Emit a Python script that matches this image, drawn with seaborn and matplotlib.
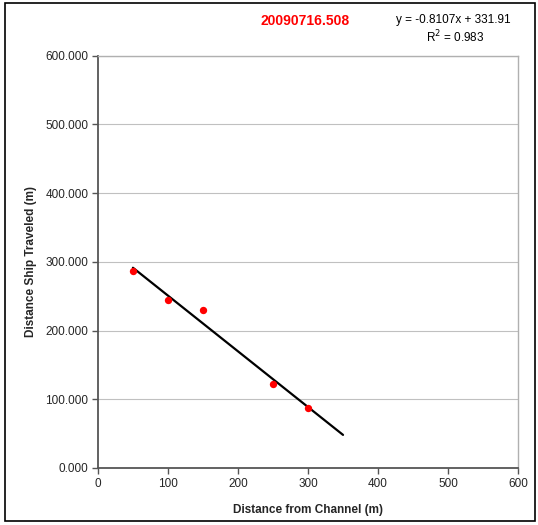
import matplotlib
matplotlib.use("Agg")
import matplotlib.pyplot as plt
import seaborn as sns
import numpy as np
import pandas as pd
from matplotlib.patches import Rectangle

# Data
distance_from_channel = [50, 100, 150, 250, 300]
distance_ship_traveled = [286.6, 245.0, 230.0, 122.8, 87.4]
slope = -0.8107
intercept = 331.91
trend_x_range = [50, 350]
title_text = "20090716.508"
equation_text = "y = -0.8107x + 331.91"
r2_text = "R$^2$ = 0.983"
x_ticks = [0, 100, 200, 300, 400, 500, 600]
y_ticks = [0, 100, 200, 300, 400, 500, 600]

sns.set_style("white")
plt.rcParams['font.family'] = ['Liberation Sans', 'DejaVu Sans']

fig = plt.figure(figsize=(5.38, 5.25), dpi=100)
ax = fig.add_axes([0.182, 0.1086, 0.781, 0.7854])

df = pd.DataFrame({"x": distance_from_channel, "y": distance_ship_traveled})
trend = pd.DataFrame({"x": trend_x_range,
                      "y": [slope * v + intercept for v in trend_x_range]})

sns.lineplot(data=trend, x="x", y="y", color="black", linewidth=1.6, ax=ax, zorder=3)
sns.scatterplot(data=df, x="x", y="y", color="#ff0000", s=28, edgecolor="#ff0000",
                linewidth=0, ax=ax, zorder=4)

ax.set_xlim(0, 600)
ax.set_ylim(0, 600)
ax.set_xticks(x_ticks)
ax.set_yticks(y_ticks)
ax.set_xticklabels([str(t) for t in x_ticks], fontsize=8.5)
ax.set_yticklabels([f"{t:.3f}" for t in y_ticks], fontsize=8.5)
ax.yaxis.grid(True, color="#c0c0c0", linewidth=0.8)
ax.xaxis.grid(False)
ax.set_axisbelow(True)

for side in ["left", "bottom"]:
    ax.spines[side].set_color("#555555")
    ax.spines[side].set_linewidth(1.3)
for side in ["top", "right"]:
    ax.spines[side].set_color("#b0b0b0")
    ax.spines[side].set_linewidth(1.0)

ax.tick_params(axis="both", direction="out", length=4, width=1, color="#555555",
               bottom=True, left=True, pad=3)

ax.set_xlabel("Distance from Channel (m)", fontsize=8.5, fontweight="bold", labelpad=10)
ax.set_ylabel("Distance Ship Traveled (m)", fontsize=8.5, fontweight="bold", labelpad=6)

fig.text(0.567, 0.96, title_text, color="#ff0000", fontsize=10, fontweight="bold",
         ha="center", va="center")
fig.text(0.842, 0.961, equation_text, color="black", fontsize=8.5, ha="center", va="center")
fig.text(0.846, 0.929, r2_text, color="black", fontsize=8.5, ha="center", va="center")

fig.patches.append(Rectangle((0.009, 0.008), 0.985, 0.986, transform=fig.transFigure,
                             fill=False, edgecolor="black", linewidth=1.2))

fig.savefig("out.png", dpi=100)
